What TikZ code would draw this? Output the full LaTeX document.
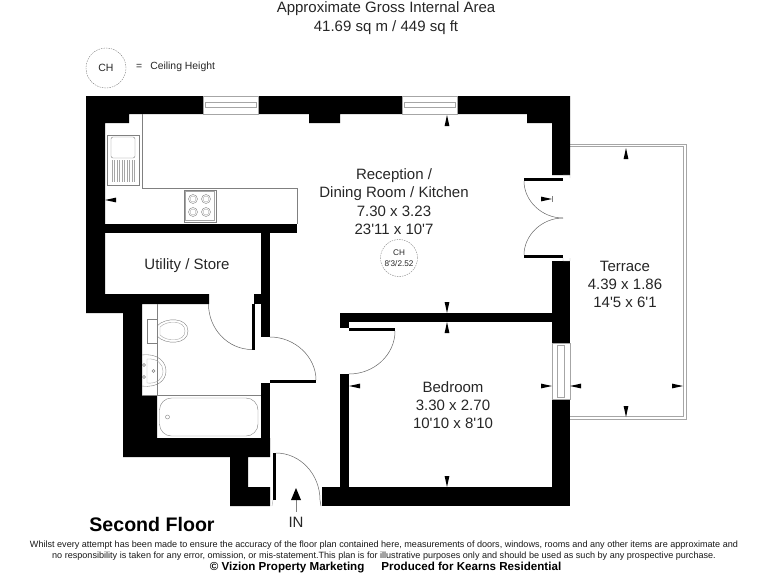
\documentclass[tikz,border=0pt]{standalone}
\usepackage{fontspec}
\setmainfont{Liberation Sans}
\newfontfamily\plainface{Liberation Sans}
\tikzset{
  wall/.style={fill=black,draw=none},
  fixture/.style={draw=black!50,line width=0.4pt,fill=none},
  glazing/.style={draw=black!35,line width=0.4pt,fill=none},
  swing/.style={draw=black!60,line width=0.5pt},
  leaf/.style={fill=black,draw=none},
  roomlabel/.style={font=\plainface\fontsize{15}{18.3}\selectfont,text=black!85,align=center,inner sep=0pt},
  footer/.style={font=\fontsize{9.08}{11}\selectfont,text=black!90,inner sep=0pt},
  chring/.style={draw=black!50,dashed,dash pattern=on 1.5pt off 1pt,line width=0.4pt},
  tip/.pic={\fill[black] (0,0) -- (-11,2.4) -- (-11,-2.4) -- cycle;}
}
\begin{document}
\begin{tikzpicture}[x=1pt,y=-1pt]
\useasboundingbox (0,0) rectangle (768,576);
% terrace balustrade
\draw[draw=black!35,line width=0.5pt] (570,144) -- (686,144) -- (686,419) -- (570,419);
\draw[draw=black!35,line width=0.5pt] (570,146.5) -- (683.5,146.5) -- (683.5,416.5) -- (570,416.5);
% walls
\fill[wall] (86,96) -- (203,96) -- (203,114) -- (129,114) -- (129,123) -- (105,123) -- (105,294)
  -- (209,294) -- (209,304) -- (142,304) -- (142,395) -- (157,395) -- (157,438) -- (270,438) -- (270,457)
  -- (248,457) -- (248,487) -- (270,487) -- (270,506) -- (230,506) -- (230,457) -- (123,457) -- (123,313)
  -- (86,313) -- cycle;
\fill[wall] (258,96) -- (402,96) -- (402,114) -- (340,114) -- (340,123) -- (309,123) -- (309,114) -- (258,114) -- cycle;
\fill[wall] (457,96) -- (570,96) -- (570,175) -- (552,175) -- (552,123) -- (527,123) -- (527,114) -- (457,114) -- cycle;
\fill[wall] (552,261) rectangle (570,343);
\fill[wall] (552,399) rectangle (570,506);
\fill[wall] (322,487) rectangle (570,506);
\fill[wall] (340,313) rectangle (552,322);
\fill[wall] (340,322) rectangle (349,328);
\fill[wall] (340,374) rectangle (349,487);
\fill[wall] (105,224) rectangle (297,233);
\fill[wall] (261,233) rectangle (270,337);
\fill[wall] (254,294) rectangle (261,304);
\fill[wall] (261,383) rectangle (270,438);
% door leaves
\fill[leaf] (349,328) rectangle (395,331);
\fill[leaf] (252,304) rectangle (254.5,350);
\fill[leaf] (270,380) rectangle (316,383);
\fill[leaf] (273,453) rectangle (276,500);
\fill[leaf] (524,178) rectangle (563,181);
\fill[leaf] (524,255) rectangle (563,258);
% door swings
\draw[swing] (395,331) .. controls (395,355) and (374,374) .. (349,374);
\draw[swing] (208.5,304) .. controls (208.5,329) and (228,349.5) .. (252,349.5);
\draw[swing] (270,337) .. controls (295,337) and (316,357) .. (316,380);
\draw[swing] (276,453) .. controls (300,453) and (320,474) .. (320,500) -- (321,506);
\draw[swing] (524,181) .. controls (524,201) and (542,218) .. (563,218);
\draw[swing] (563,218) .. controls (542,218) and (524,235) .. (524,255);
\draw[glazing] (273,500) -- (272,506) (563,175) -- (570,175) -- (570,178) (563,258) -- (563,261) -- (570,261) -- (570,258);
% windows
\draw[glazing] (203,96) rectangle (258,114);
\draw[glazing] (205,102) rectangle (256,107);
\draw[glazing] (402,96) rectangle (457,114);
\draw[glazing] (404,102) rectangle (455,107);
\draw[glazing] (552,343) rectangle (570,399);
\draw[glazing] (557,345) rectangle (564,397);
% kitchen
\draw[fixture] (142,114) -- (142,188) -- (297,188) -- (297,224);
\draw[fixture] (107,135) rectangle (139,185);
\draw[fixture,rounded corners=2pt] (111,137) rectangle (135,158);
\foreach \xx in {112,114.5,...,134.5} {\draw[glazing] (\xx,160) -- (\xx,182);}
\draw[fixture] (184,190) rectangle (216,222);
\draw[glazing] (185.5,191.5) rectangle (214.5,220.5);
\foreach \xx in {193,206} {\foreach \yy in {199,212} {
  \draw[fixture] (\xx,\yy) circle[radius=4.5];
  \draw[glazing] (\xx,\yy) circle[radius=3];}}
% bathroom
\draw[fixture] (157,304) -- (157,395) (142,395) -- (261,395);
\draw[fixture,rounded corners=12pt] (159.5,398) rectangle (258,436);
\draw[fixture] (167.5,417) circle[radius=2];
\draw[fixture] (147,319) rectangle (157,343);
\draw[fixture] (157,326) .. controls (165,317) and (188,317) .. (188,331) .. controls (188,345) and (165,345) .. (157,336);
\draw[glazing] (160,327) .. controls (167,320) and (185,320) .. (185,331) .. controls (185,342) and (167,342) .. (160,335) -- cycle;
\draw[fixture] (142,355) .. controls (158,353) and (166,362) .. (166,371) .. controls (166,380) and (158,388) .. (142,386);
\draw[glazing] (147,359) .. controls (157,358) and (163,364) .. (163,371) .. controls (163,379) and (157,384) .. (147,383) -- cycle;
\draw[fixture] (144,365) circle[radius=1.5] (144,377) circle[radius=1.5] (153.5,371) circle[radius=1.5];
% dimension tips
\pic[rotate=90] at (447,115) {tip};
\pic[rotate=-90] at (447,313) {tip};
\pic[rotate=90] at (447,322) {tip};
\pic[rotate=-90] at (447,487) {tip};
\pic[rotate=90] at (626,148) {tip};
\pic[rotate=-90] at (626,417) {tip};
\pic[rotate=180] at (349,386) {tip};
\pic at (552,386) {tip};
\pic[rotate=180] at (570,386) {tip};
\pic at (683,386) {tip};
\pic at (552,199) {tip};
\draw[fixture] (552,196) -- (552,202);
\pic[rotate=180] at (105,200) {tip};
% entrance arrow
\draw[fixture] (296,498) -- (296,512);
\fill[black] (296,488) -- (301,500) -- (291,500) -- cycle;
% texts
\node[roomlabel] (title) at (386,18) {Approximate Gross Internal Area\\41.69 sq m / 449 sq ft};
\node[chring,circle,minimum size=40pt,inner sep=0pt,font=\fontsize{10.5}{12}\selectfont,text=black!85] (chkey) at (106,68) {CH};
\node[inner sep=0pt,anchor=west,font=\fontsize{10.4}{12}\selectfont,text=black!85] (chtext) at (136,67) {=\hspace{8pt}Ceiling Height};
\node[roomlabel] (reception) at (394,201.5) {Reception /\\Dining Room / Kitchen\\7.30 x 3.23\\23'11 x 10'7};
\node[chring,circle,minimum size=37pt,inner sep=0pt,align=center,font=\plainface\fontsize{8.2}{11.5}\selectfont,text=black!85] (chroom) at (399,258) {CH\\8'3/2.52};
\node[roomlabel] (utility) at (187,265.5) {Utility / Store};
\node[roomlabel] (terrace) at (625,284.5) {Terrace\\4.39 x 1.86\\14'5 x 6'1};
\node[roomlabel] (bedroom) at (453,405) {Bedroom\\3.30 x 2.70\\10'10 x 8'10};
\node[roomlabel] (in) at (296,522) {IN};
\node[inner sep=0pt,font=\bfseries\fontsize{19.6}{22}\selectfont] (floor) at (152,524) {Second Floor};
\node[footer] (foota) at (384,545) {Whilst every attempt has been made to ensure the accuracy of the floor plan contained here, measurements of doors, windows, rooms and any other items are approximate and};
\node[footer] (footb) at (384,556.5) {no responsibility is taken for any error, omission, or mis-statement.This plan is for illustrative purposes only and should be used as such by any prospective purchase.};
\node[inner sep=0pt,font=\bfseries\fontsize{11.6}{13}\selectfont] (credit) at (385.5,568) {© Vizion Property Marketing\hspace{17pt}Produced for Kearns Residential};
\end{tikzpicture}
\end{document}
